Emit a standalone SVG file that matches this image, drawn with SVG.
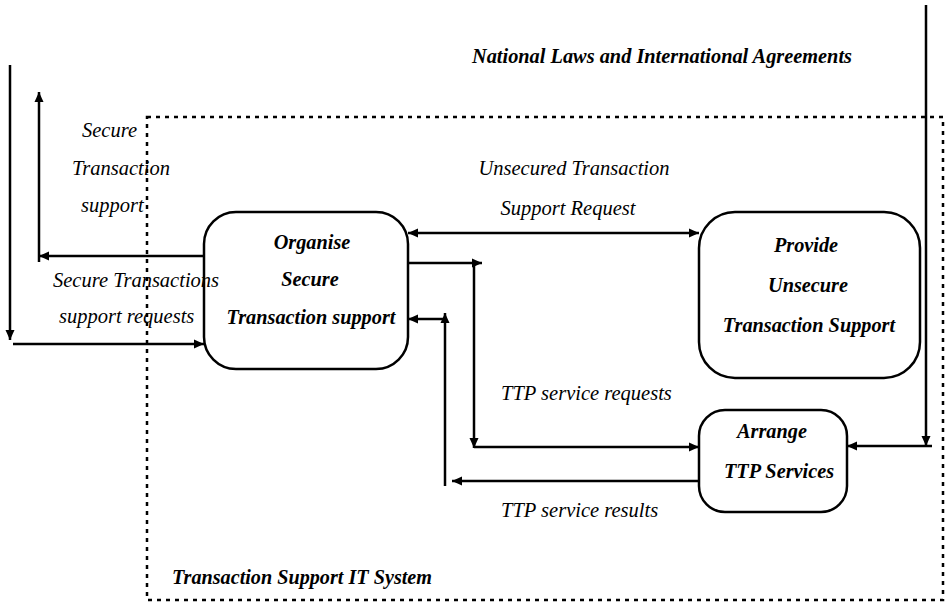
<svg xmlns="http://www.w3.org/2000/svg" width="945" height="607" viewBox="0 0 945 607">
<style>
.box{fill:#fff;stroke:#000;stroke-width:2.5}
.ln{fill:none;stroke:#000;stroke-width:2.5}
.dot{fill:none;stroke:#000;stroke-width:2.5;stroke-dasharray:4 5}
.lbl{font-family:"Liberation Serif","Times New Roman",serif;font-style:italic;font-size:20.5px;fill:#000}
.nd{font-family:"Liberation Serif","Times New Roman",serif;font-style:italic;font-weight:bold;font-size:20.3px;fill:#000;text-anchor:middle}
.ttl{font-family:"Liberation Serif","Times New Roman",serif;font-style:italic;font-weight:bold;font-size:20px;fill:#000}
</style>
<defs>
<marker id="ah" markerUnits="userSpaceOnUse" markerWidth="11" markerHeight="10" refX="10" refY="5" orient="auto"><path d="M0,0.5 L10,5 L0,9.5 z" fill="#000"/></marker>
<marker id="as" markerUnits="userSpaceOnUse" markerWidth="11" markerHeight="10" refX="0" refY="5" orient="auto"><path d="M10,0.5 L0,5 L10,9.5 z" fill="#000"/></marker>
</defs>
<rect width="945" height="607" fill="#fff"/>
<g id="system-boundary">
<rect class="dot" x="147" y="117" width="796" height="483"/>
<text class="ttl" x="172" y="584" textLength="260" lengthAdjust="spacingAndGlyphs">Transaction Support IT System</text>
</g>
<g id="laws-label">
<text class="ttl" x="472" y="63" textLength="380" lengthAdjust="spacingAndGlyphs">National Laws and International Agreements</text>
</g>
<g id="organise">
<rect class="box" x="204" y="212" width="204" height="157" rx="32"/>
<text class="nd" x="312" y="249">Organise</text>
<text class="nd" x="310" y="286">Secure</text>
<text class="nd" x="311" y="324">Transaction support</text>
</g>
<g id="provide">
<rect class="box" x="699" y="212" width="221" height="166" rx="36"/>
<text class="nd" x="806" y="252">Provide</text>
<text class="nd" x="808" y="292">Unsecure</text>
<text class="nd" x="809" y="332">Transaction Support</text>
</g>
<g id="arrange">
<rect class="box" x="699" y="410" width="148" height="102" rx="26"/>
<text class="nd" x="772" y="438">Arrange</text>
<text class="nd" x="779" y="478">TTP Services</text>
</g>
<g id="connectors">
<line class="ln" x1="10" y1="65" x2="10" y2="340" marker-end="url(#ah)"/>
<line class="ln" x1="204" y1="256" x2="39" y2="256" marker-end="url(#ah)"/>
<line class="ln" x1="39" y1="262" x2="39" y2="92" marker-end="url(#ah)"/>
<line class="ln" x1="13" y1="344" x2="204" y2="344" marker-end="url(#ah)"/>
<line class="ln" x1="408" y1="233" x2="699" y2="233" marker-start="url(#as)" marker-end="url(#ah)"/>
<line class="ln" x1="408" y1="263" x2="482" y2="263" marker-end="url(#ah)"/>
<line class="ln" x1="474" y1="263" x2="474" y2="448" marker-end="url(#ah)"/>
<line class="ln" x1="474" y1="447" x2="699" y2="447" marker-end="url(#ah)"/>
<line class="ln" x1="699" y1="481" x2="452" y2="481" marker-end="url(#ah)"/>
<line class="ln" x1="445" y1="486" x2="445" y2="313" marker-end="url(#ah)"/>
<line class="ln" x1="445" y1="319" x2="408" y2="319" marker-end="url(#ah)"/>
<line class="ln" x1="926" y1="5" x2="926" y2="446" marker-end="url(#ah)"/>
<line class="ln" x1="932" y1="446" x2="847" y2="446" marker-end="url(#ah)"/>
<text class="lbl" x="82" y="137">Secure</text>
<text class="lbl" x="72" y="175">Transaction</text>
<text class="lbl" x="81" y="212">support</text>
<text class="lbl" x="53" y="287">Secure Transactions</text>
<text class="lbl" x="59" y="323">support requests</text>
<text class="lbl" x="574" y="175" text-anchor="middle">Unsecured Transaction</text>
<text class="lbl" x="568" y="215" text-anchor="middle">Support Request</text>
<text class="lbl" x="501" y="400">TTP service requests</text>
<text class="lbl" x="501" y="517">TTP service results</text>
</g>
</svg>
